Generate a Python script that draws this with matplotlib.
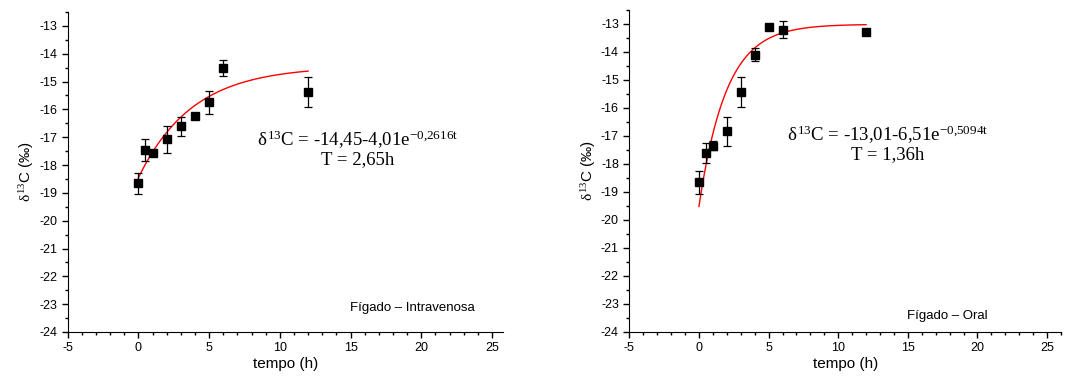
import numpy as np
import matplotlib.pyplot as plt
from matplotlib.ticker import MultipleLocator

# Dados - Figado Intravenosa
t_iv = [0, 0.5, 1, 2, 3, 4, 5, 6, 12]
d13c_iv = [-18.66, -17.46, -17.56, -17.08, -16.61, -16.24, -15.74, -14.52, -15.38]
err_iv = [0.39, 0.38, 0.0, 0.48, 0.35, 0.0, 0.41, 0.28, 0.53]

# Dados - Figado Oral
t_or = [0, 0.5, 1, 2, 3, 4, 5, 6, 12]
d13c_or = [-18.66, -17.62, -17.35, -16.84, -15.43, -14.10, -13.10, -13.21, -13.27]
err_or = [0.41, 0.35, 0.17, 0.52, 0.52, 0.23, 0.0, 0.30, 0.0]

# parametros do ajuste exponencial (y = a - b*exp(-k t))
fit_iv = (-14.45, 4.01, 0.2616)
fit_or = (-13.01, 6.51, 0.5094)

eq_iv = r'$\delta^{13}$C = -14,45-4,01e$^{-0{,}2616t}$' + '\nT = 2,65h'
eq_or = r'$\delta^{13}$C = -13,01-6,51e$^{-0{,}5094t}$' + '\nT = 1,36h'

plt.rcParams['font.family'] = 'Liberation Sans'
plt.rcParams['axes.unicode_minus'] = False
plt.rcParams['mathtext.fontset'] = 'custom'
plt.rcParams['mathtext.rm'] = 'Liberation Serif'
plt.rcParams['mathtext.it'] = 'Liberation Serif'

fig = plt.figure(figsize=(10.67, 3.83), dpi=100)
ax1 = fig.add_axes([0.0634, 0.1332, 0.4083, 0.8355])
ax2 = fig.add_axes([0.5898, 0.1340, 0.4046, 0.8399])


def painel(ax, t, y, e, fit, eq, eq_xy, label, label_xy, xmax):
    a, b, k = fit
    tt = np.linspace(0, 12, 200)
    ax.plot(tt, a - b * np.exp(-k * tt), color='red', lw=1.0, zorder=2)
    ax.errorbar(t, y, yerr=e, fmt='s', color='black', ms=5.5, capsize=3,
                elinewidth=0.9, capthick=0.9, zorder=3)
    ax.set_xlim(-5, xmax)
    ax.set_ylim(-24, -12.5)
    ax.xaxis.set_major_locator(MultipleLocator(5))
    ax.xaxis.set_minor_locator(MultipleLocator(1))
    ax.yaxis.set_major_locator(MultipleLocator(1))
    ax.yaxis.set_minor_locator(MultipleLocator(0.5))
    ax.spines['top'].set_visible(False)
    ax.spines['right'].set_visible(False)
    ax.tick_params(which='major', direction='out', length=4, width=1, labelsize=9)
    ax.tick_params(which='minor', direction='out', length=2.5, width=1)
    ax.set_xlabel('tempo (h)', fontsize=11, labelpad=2)
    ax.set_ylabel(r'$\delta^{13}$C (‰)', fontsize=11, labelpad=2)
    ax.text(eq_xy[0], eq_xy[1], eq, fontsize=13.5, family='Liberation Serif',
            ha='center', va='center', linespacing=1.0)
    ax.text(label_xy[0], label_xy[1], label, fontsize=9.5, ha='center', va='center')


painel(ax1, t_iv, d13c_iv, err_iv, fit_iv, eq_iv, (15.5, -17.4),
       'Fígado – Intravenosa', (19.4, -23.14), 25.8)
painel(ax2, t_or, d13c_or, err_or, fit_or, eq_or, (13.55, -17.27),
       'Fígado – Oral', (17.8, -23.43), 26.0)

fig.savefig('out.png', dpi=100)
